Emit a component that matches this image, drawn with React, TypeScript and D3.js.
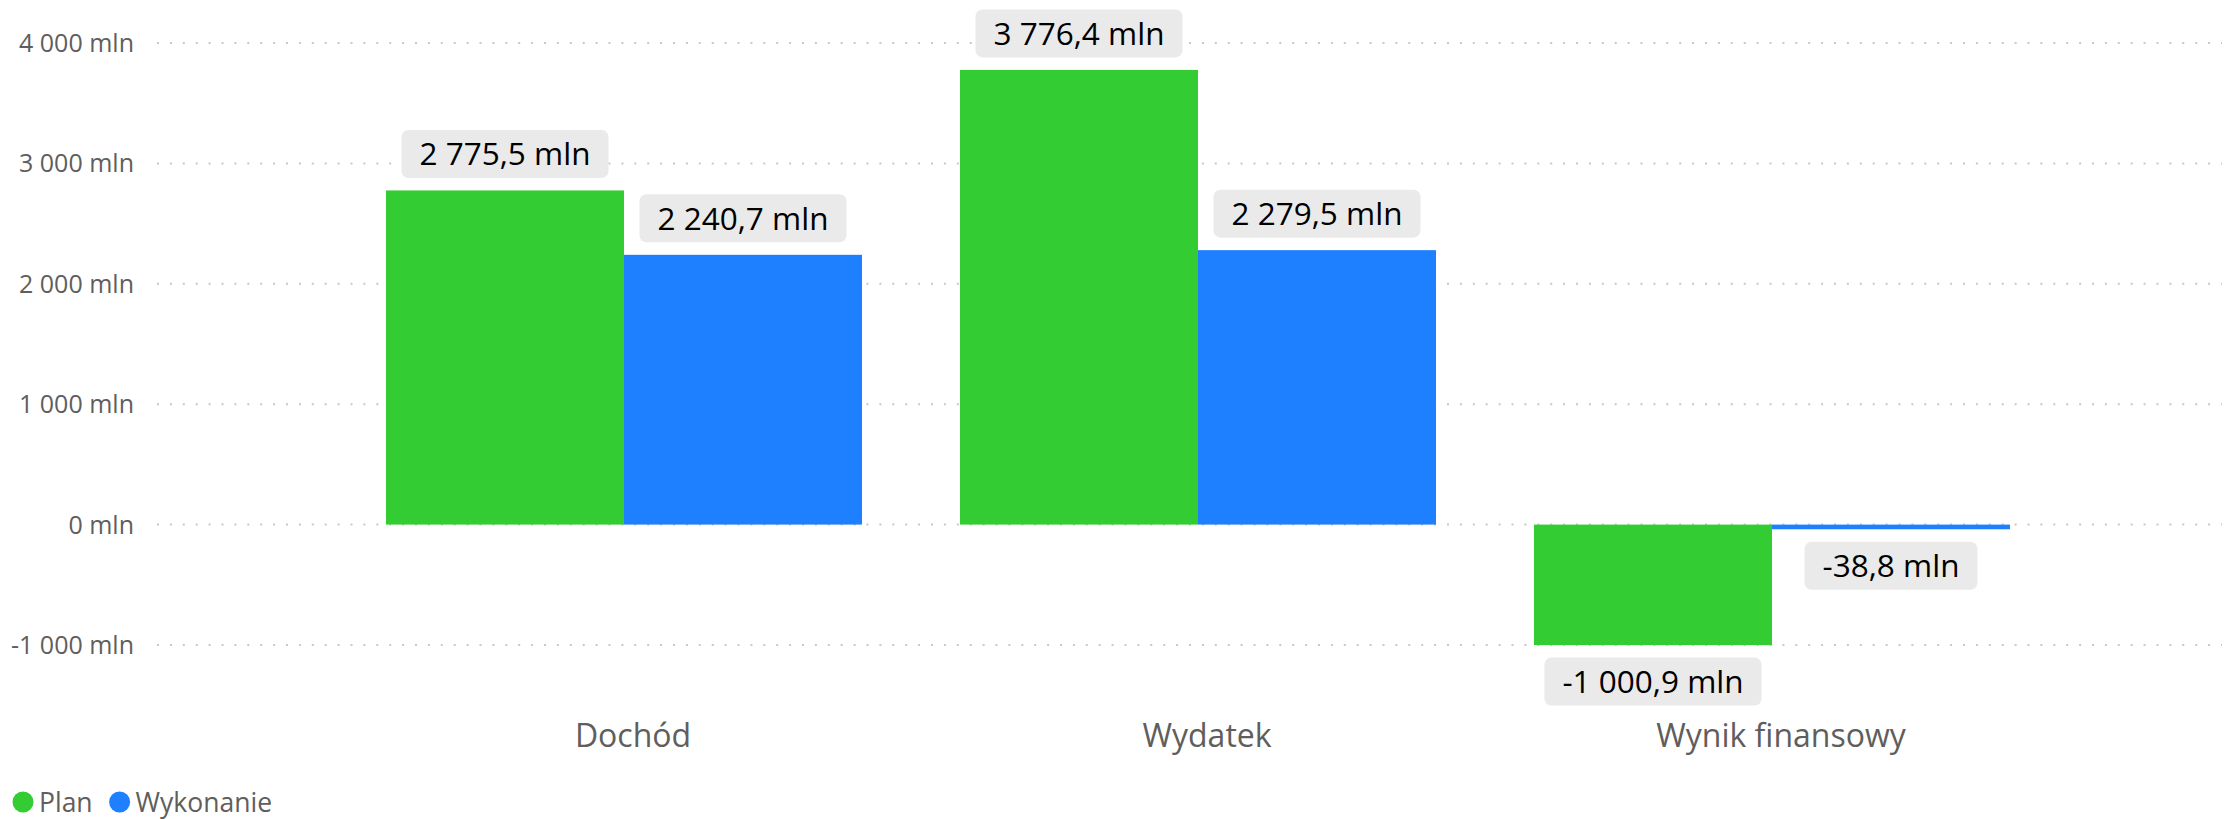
import React, { useEffect, useRef } from 'react';
import * as d3 from 'd3';

const categories = ['Dochód', 'Wydatek', 'Wynik finansowy'];
const seriesNames = ['Plan', 'Wykonanie'];
const planValues = [2775.5, 3776.4, -1000.9];
const wykonanieValues = [2240.7, 2279.5, -38.8];
const yTicks = [-1000, 0, 1000, 2000, 3000, 4000];
const colors = ['#33CC33', '#1E80FF'];

const W = 2232;
const H = 819;
const FONT = '"Open Sans", "Noto Sans", sans-serif';

// Polish style: space for thousands, comma for decimals
const fmt = (v: number, digits: number) => {
  const s = Math.abs(v).toFixed(digits).split('.');
  const int = s[0].replace(/\B(?=(\d{3})+(?!\d))/g, ' ');
  return (v < 0 ? '-' : '') + int + (s[1] ? ',' + s[1] : '') + ' mln';
};

const App: React.FC = () => {
  const ref = useRef<SVGSVGElement | null>(null);

  useEffect(() => {
    if (!ref.current) return;
    const svg = d3.select(ref.current);
    svg.selectAll('*').remove();

    const plotLeft = 157;
    const plotRight = 2222;

    const y = d3.scaleLinear().domain([-1000, 4000]).range([645, 43]);

    const p = 98 / 574;
    const x0 = d3
      .scaleBand<string>()
      .domain(categories)
      .range([337, 2059])
      .paddingInner(p)
      .paddingOuter(p / 2);
    const x1 = d3
      .scaleBand<string>()
      .domain(seriesNames)
      .range([0, x0.bandwidth()]);

    // gridlines
    svg
      .append('g')
      .selectAll('line')
      .data(yTicks)
      .join('line')
      .attr('x1', plotLeft)
      .attr('x2', plotRight)
      .attr('y1', d => y(d))
      .attr('y2', d => y(d))
      .attr('stroke', '#c8c8c8')
      .attr('stroke-width', 2)
      .attr('stroke-dasharray', '2 10.9');

    // y tick labels
    svg
      .append('g')
      .selectAll('text')
      .data(yTicks)
      .join('text')
      .attr('x', 134)
      .attr('y', d => y(d))
      .attr('dy', '0.36em')
      .attr('text-anchor', 'end')
      .attr('font-family', FONT)
      .attr('font-size', 25)
      .attr('fill', '#605E5C')
      .text(d => fmt(d, 0));

    const rows = categories.flatMap((c, i) => [
      { cat: c, s: seriesNames[0], v: planValues[i], color: colors[0] },
      { cat: c, s: seriesNames[1], v: wykonanieValues[i], color: colors[1] },
    ]);

    // bars
    svg
      .append('g')
      .selectAll('rect')
      .data(rows)
      .join('rect')
      .attr('x', d => (x0(d.cat) ?? 0) + (x1(d.s) ?? 0))
      .attr('width', x1.bandwidth())
      .attr('y', d => y(Math.max(0, d.v)))
      .attr('height', d => Math.abs(y(d.v) - y(0)))
      .attr('fill', d => d.color);

    // data labels
    const labels = svg.append('g');
    rows.forEach(d => {
      const cx = (x0(d.cat) ?? 0) + (x1(d.s) ?? 0) + x1.bandwidth() / 2;
      const boxH = 48;
      const gap = 12.5;
      const top = d.v >= 0 ? y(d.v) - gap - boxH : y(d.v) + gap;
      const g = labels.append('g');
      const rect = g.append('rect').attr('fill', '#EAEAEA').attr('rx', 7);
      const t = g
        .append('text')
        .attr('x', cx)
        .attr('y', top + boxH / 2)
        .attr('dy', '0.36em')
        .attr('text-anchor', 'middle')
        .attr('font-family', FONT)
        .attr('font-size', 31.5)
        .attr('fill', '#000')
        .text(fmt(d.v, 1));
      const tw = (t.node() as SVGTextElement).getComputedTextLength();
      const bw = tw + 36;
      rect
        .attr('x', cx - bw / 2)
        .attr('y', top)
        .attr('width', bw)
        .attr('height', boxH);
    });

    // category labels
    svg
      .append('g')
      .selectAll('text')
      .data(categories)
      .join('text')
      .attr('x', d => (x0(d) ?? 0) + x0.bandwidth() / 2 + 9)
      .attr('y', 747)
      .attr('text-anchor', 'middle')
      .attr('font-family', FONT)
      .attr('font-size', 32)
      .attr('fill', '#605E5C')
      .text(d => d);

    // legend
    const legend = svg.append('g');
    let lx = 12;
    seriesNames.forEach((name, i) => {
      legend
        .append('circle')
        .attr('cx', lx + 11)
        .attr('cy', 802)
        .attr('r', 10.5)
        .attr('fill', colors[i]);
      const t = legend
        .append('text')
        .attr('x', lx + 27)
        .attr('y', 802)
        .attr('dy', '0.36em')
        .attr('font-family', FONT)
        .attr('font-size', 26.5)
        .attr('fill', '#605E5C')
        .text(name);
      lx += 27 + (t.node() as SVGTextElement).getComputedTextLength() + 16;
    });
  }, []);

  return (
    <svg
      ref={ref}
      width={W}
      height={H}
      style={{ position: 'absolute', left: 0, top: 0, background: '#fff' }}
    />
  );
};

export default App;
